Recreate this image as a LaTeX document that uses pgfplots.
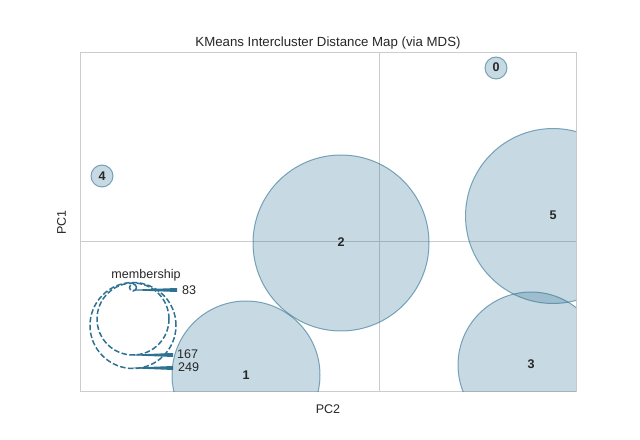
\documentclass[border=0pt]{standalone}
\usepackage{pgfplots}
\pgfplotsset{compat=1.18}
\usepackage{fontspec}
\setmainfont{Liberation Sans}
\definecolor{clu}{HTML}{2E7193}
\definecolor{frame}{HTML}{CCCCCC}
\definecolor{txt}{HTML}{262626}
\newcommand\fa{\fontsize{12.6}{15}\selectfont}
\newcommand\ft{\fontsize{13.3}{16}\selectfont}
\begin{document}
\begin{tikzpicture}
\path (0,0) rectangle (640bp,440bp);
\begin{axis}[
  at={(80bp,48bp)}, anchor=south west,
  scale only axis, width=496bp, height=339bp,
  xmin=0, xmax=496, ymin=0, ymax=339,
  xtick={299}, ytick={151}, xticklabels={}, yticklabels={},
  grid=major, major grid style={draw=frame, line width=0.8bp},
  axis line style={draw=frame, line width=1bp},
  tick style={draw=none},
  clip marker paths=true,
  xlabel={PC2},
  x label style={at={(axis description cs:0.5,0)}, anchor=north, inner sep=0pt, yshift=-12.5bp, font=\fa, text=txt},
  title={KMeans Intercluster Distance Map (via MDS)},
  title style={at={(axis description cs:0.5,1)}, anchor=base, inner sep=0pt, yshift=0.5bp, font=\ft, text=txt},
  clu/.style={only marks, mark=*, mark options={fill=clu, fill opacity=0.267, draw=clu, draw opacity=0.6, line width=1bp}},
  leg/.style={only marks, mark=o, mark options={draw=clu, line width=1.5bp, dash pattern=on 5.5bp off 2.4bp, fill=none}},
]
% clusters 0..5
\addplot[clu, mark size=11bp] coordinates {(416,324)};
\addplot[clu, mark size=74bp] coordinates {(166,17)};
\addplot[clu, mark size=88bp] coordinates {(261,149)};
\addplot[clu, mark size=73bp] coordinates {(451,27)};
\addplot[clu, mark size=11bp] coordinates {(22,216)};
\addplot[clu, mark size=87.5bp] coordinates {(473,176)};
% cluster labels
\node[font=\fa\bfseries, text=txt] at (axis cs:416,325) {0};
\node[font=\fa\bfseries, text=txt] at (axis cs:166,17) {1};
\node[font=\fa\bfseries, text=txt] at (axis cs:261,150) {2};
\node[font=\fa\bfseries, text=txt] at (axis cs:451,28) {3};
\node[font=\fa\bfseries, text=txt] at (axis cs:22,216) {4};
\node[font=\fa\bfseries, text=txt] at (axis cs:473,177) {5};
% membership legend
\addplot[leg, mark size=43bp] coordinates {(53,66.5)};
\addplot[leg, mark size=36bp] coordinates {(53,73)};
\addplot[leg, mark size=3.5bp] coordinates {(53,104.5)};
\fill[clu] (axis cs:53,102.4) -- (axis cs:97,104) -- (axis cs:97,100) -- (axis cs:53,101.6) -- cycle;
\fill[clu] (axis cs:53,37.4) -- (axis cs:93,39) -- (axis cs:93,35) -- (axis cs:53,36.6) -- cycle;
\fill[clu] (axis cs:53,24.4) -- (axis cs:93,26) -- (axis cs:93,22) -- (axis cs:53,23.6) -- cycle;
\node[font=\fa, text=txt] at (axis cs:66,117) {membership};
\node[font=\fa, text=txt, anchor=west, inner sep=0pt] at (axis cs:102,101.5) {83};
\node[font=\fa, text=txt, anchor=west, inner sep=0pt] at (axis cs:97,37.5) {167};
\node[font=\fa, text=txt, anchor=west, inner sep=0pt] at (axis cs:98,24.5) {249};
\end{axis}
\node[font=\fa, text=txt, inner sep=0pt, rotate=90] at (61.5bp,217.5bp) {PC1};
\end{tikzpicture}
\end{document}
